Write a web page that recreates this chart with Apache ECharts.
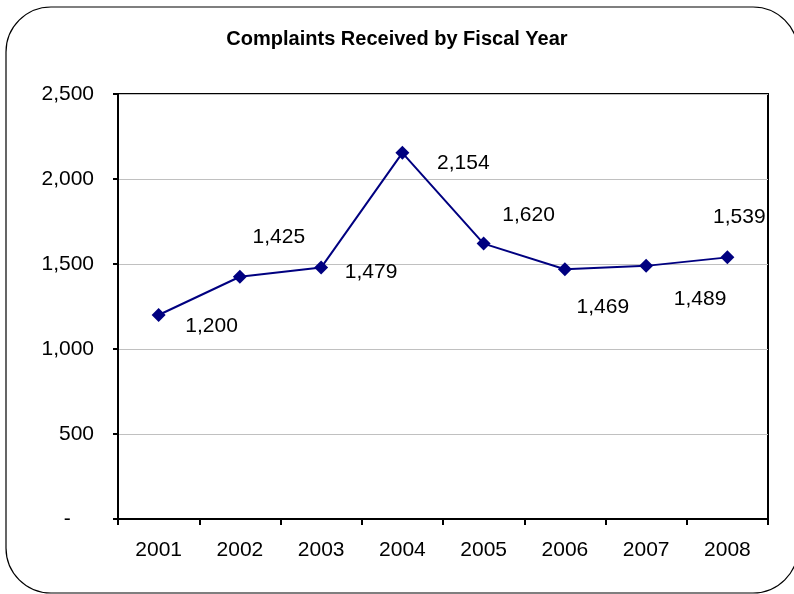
<!DOCTYPE html>
<html>
<head>
<meta charset="utf-8">
<script src="https://cdn.jsdelivr.net/npm/echarts@6/dist/echarts.min.js"></script>
<style>
html,body{margin:0;padding:0;background:#fff;}
#c{width:794px;height:594px;}
</style>
</head>
<body>
<div id="c"></div>
<script>
const categories = ['2001','2002','2003','2004','2005','2006','2007','2008'];
const complaints = [1200, 1425, 1479, 2154, 1620, 1469, 1489, 1539];
const yTicks = [0, 500, 1000, 1500, 2000, 2500];
const labelOffsets = [[53,11],[39,-40],[50,5],[61,10],[45,-28],[38,38],[54,33],[12,-40]];

const FONT = '"Liberation Sans", Arial, sans-serif';
const chart = echarts.init(document.getElementById('c'));
chart.setOption({
  backgroundColor: '#fff',
  animation: false,
  title: {
    text: 'Complaints Received by Fiscal Year',
    left: 'center',
    top: 29,
    padding: 0,
    textStyle: {fontFamily: FONT, fontSize: 20, fontWeight: 'bold', color: '#000'}
  },
  graphic: [{
    type: 'rect',
    shape: {x: 6, y: 7, width: 792, height: 586, r: 45},
    style: {fill: 'none', stroke: '#000', lineWidth: 1.2},
    silent: true, z: -1
  }],
  grid: {left: 118, right: 26, top: 94, bottom: 75, show: true, borderColor: '#000', borderWidth: 2, backgroundColor: 'transparent'},
  xAxis: {
    type: 'category',
    data: categories,
    boundaryGap: true,
    axisLine: {lineStyle: {color: '#000', width: 2}},
    axisTick: {show: true, length: 6, lineStyle: {color: '#000', width: 2}},
    axisLabel: {fontFamily: FONT, fontSize: 21, color: '#000', margin: 21}
  },
  yAxis: {
    type: 'value',
    min: yTicks[0],
    max: yTicks[yTicks.length - 1],
    interval: 500,
    axisLine: {show: true, lineStyle: {color: '#000', width: 2}},
    axisTick: {show: true, length: 5, lineStyle: {color: '#000', width: 2}},
    splitLine: {lineStyle: {color: '#c0c0c0', width: 1}},
    axisLabel: {
      fontFamily: FONT, fontSize: 21, color: '#000', margin: 24,
      formatter: v => v === 0 ? '-    ' : v.toLocaleString('en-US')
    }
  },
  series: [{
    type: 'line',
    data: complaints.map((v, i) => ({
      value: v,
      label: {offset: labelOffsets[i]}
    })),
    symbol: 'diamond',
    symbolSize: 14,
    lineStyle: {color: '#000080', width: 2},
    itemStyle: {color: '#000080'},
    label: {
      show: true,
      position: 'inside',
      fontFamily: FONT, fontSize: 21, color: '#000',
      formatter: p => p.value.toLocaleString('en-US')
    }
  }]
});
</script>
</body>
</html>
